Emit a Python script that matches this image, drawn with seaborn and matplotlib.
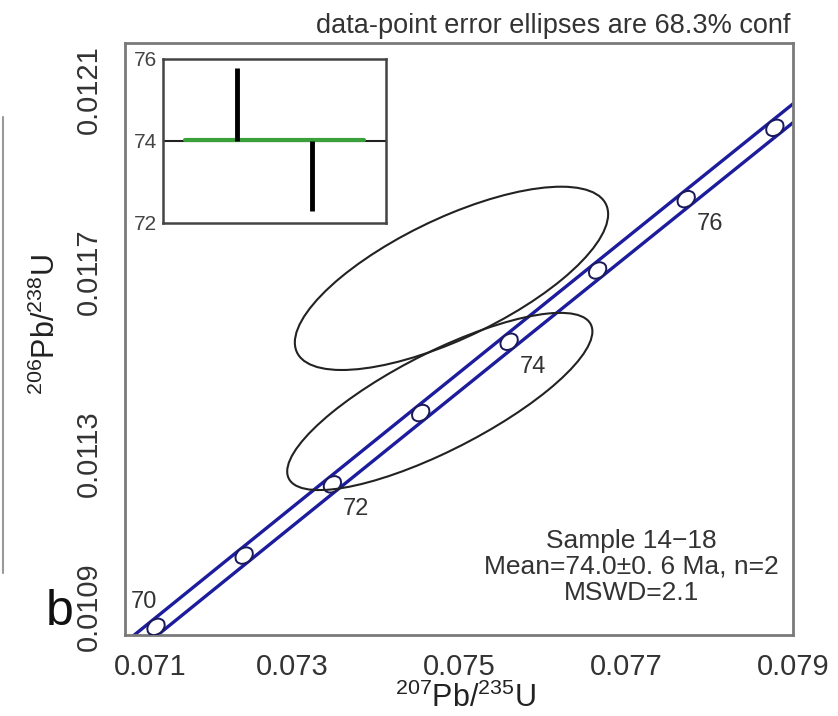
import numpy as np
import matplotlib
matplotlib.use('Agg')
import matplotlib.pyplot as plt
import seaborn as sns
from matplotlib.patches import Ellipse, Circle
from matplotlib.transforms import Affine2D, ScaledTranslation
from matplotlib.lines import Line2D

# concordia points (Ma, 207Pb/235U, 206Pb/238U)
conc_age = [69.5, 70, 71, 72, 73, 74, 75, 76, 77, 77.5]
conc_x = [0.0708439, 0.0713714, 0.0724270, 0.0734837, 0.0745415,
          0.0756003, 0.0766601, 0.0777210, 0.0787829, 0.0793142]
conc_y = [0.0108393, 0.0109179, 0.0110748, 0.0112316, 0.0113885,
          0.0115454, 0.0117023, 0.0118593, 0.0120163, 0.0120948]
band_dx = 0.00014           # half width of decay-constant band in 207/235
marker_ages = [70, 71, 72, 73, 74, 75, 76, 77]
label_ages = [70, 72, 74, 76]

# data-point error ellipses (1 sigma, rho)
ell_x = [0.07491, 0.07477]
ell_y = [0.011685, 0.011414]
ell_sx = [0.001237, 0.001205]
ell_sy = [0.000133, 0.0001286]
ell_rho = [0.70, 0.79]

# weighted-mean inset
bar_pos = [1, 2]
bar_lo = [74.0, 72.29]
bar_hi = [75.78, 74.0]
mean_age = 74.0

x_ticks = [0.071, 0.073, 0.075, 0.077, 0.079]
y_ticks = [0.0109, 0.0113, 0.0117, 0.0121]

sns.set_theme(style='white')
plt.rcParams['font.family'] = ['Liberation Sans', 'DejaVu Sans']
plt.rcParams['mathtext.fontset'] = 'custom'
plt.rcParams['mathtext.rm'] = 'Liberation Sans'
plt.rcParams['mathtext.it'] = 'Liberation Sans:italic'

fig = plt.figure(figsize=(8.38, 7.16), dpi=100)
ax = fig.add_axes([125/838, 1-635/716, 668/838, 592/716])

blue = '#1c1c9c'
conc = dict(zip(conc_age, zip(conc_x, conc_y)))
xs = np.array(conc_x)
ys = np.array(conc_y)
sns.lineplot(x=xs - band_dx, y=ys, sort=False, estimator=None, color=blue,
             lw=2.4, ax=ax, zorder=2)
sns.lineplot(x=xs + band_dx, y=ys, sort=False, estimator=None, color=blue,
             lw=2.4, ax=ax, zorder=2)

for a in marker_ages:
    cx, cy = conc[a]
    tr = fig.dpi_scale_trans + ScaledTranslation(cx, cy, ax.transData)
    ax.add_patch(Ellipse((0, 0), 0.19, 0.145, angle=39, transform=tr,
                         fc='white', ec='#1a1a5a', lw=1.4, zorder=3))

for a in label_ages:
    off = (-12, 25) if a == 70 else (24, -25)
    ax.annotate(str(a), conc[a], xytext=off, textcoords='offset pixels',
                ha='center', va='center', fontsize=17, color='#333333')

k = np.sqrt(2.30)
for cx, cy, sx, sy, r in zip(ell_x, ell_y, ell_sx, ell_sy, ell_rho):
    m = Affine2D(np.array([[k*sx, 0, cx],
                           [k*r*sy, k*sy*np.sqrt(1-r**2), cy],
                           [0, 0, 1]]))
    ax.add_patch(Circle((0, 0), 1, transform=m + ax.transData, fill=False,
                        ec='#222222', lw=1.5, zorder=4))

ax.set_xlim(0.071, 0.079)
ax.set_ylim(0.0109, 0.012203)
ax.set_xticks(x_ticks)
ax.set_xticklabels([f'{v:.3f}' for v in x_ticks])
ax.set_yticks(y_ticks)
ax.set_yticklabels([f'{v:.4f}' for v in y_ticks], rotation=90, va='center')
ax.tick_params(direction='in', length=4, width=1.2, colors='#777777',
               labelcolor='#333333', labelsize=21)
ax.tick_params(axis='x', pad=13)
ax.tick_params(axis='y', pad=16)
for s in ax.spines.values():
    s.set_color('#7a7a7a')
    s.set_linewidth(2)

# nudge the corner labels away from each other
xl = ax.get_xticklabels()[0]
xl.set_transform(xl.get_transform() + ScaledTranslation(0.25, 0, fig.dpi_scale_trans))
yl = ax.get_yticklabels()[0]
yl.set_transform(yl.get_transform() + ScaledTranslation(0, 0.28, fig.dpi_scale_trans))

ax.set_xlabel(r'$^{207}$Pb/$^{235}$U', fontsize=22, color='#222222')
ax.xaxis.set_label_coords(0.51, -0.08)
ax.set_ylabel(r'$^{206}$Pb/$^{238}$U', fontsize=22, color='#222222')
ax.yaxis.set_label_coords(-0.095, 0.524)

ax.text(0.758, 0.115, 'Sample 14\u221218\nMean=74.0\u00b10. 6 Ma, n=2\nMSWD=2.1',
        transform=ax.transAxes, ha='center', va='center', fontsize=19,
        color='#333333', linespacing=1.1)

fig.text(790/838, 1-26/716, 'data-point error ellipses are 68.3% conf',
         ha='right', va='center', fontsize=19.5, color='#333333')
fig.text(60/838, 1-612/716, 'b', ha='center', va='center', fontsize=36,
         color='#111111')
fig.add_artist(Line2D([3/838, 3/838], [1-117/716, 1-573/716],
                      color='#999999', lw=1.5))

# inset: weighted mean ages
ins = fig.add_axes([163/838, 1-223/716, 223/838, 164/716])
ins.axhline(mean_age, color='#222222', lw=1.5, zorder=1)
sns.lineplot(x=[0.3, 2.7], y=[mean_age + 0.03]*2, color='#3aa03a', lw=3,
             ax=ins, zorder=2)
ins.vlines(bar_pos, bar_lo, bar_hi, color='black', lw=3.5, zorder=3)
ins.set_xlim(0, 3)
ins.set_ylim(72, 76)
ins.set_xticks([])
ins.set_yticks([72, 74, 76])
ins.tick_params(axis='y', direction='out', length=3, width=1, colors='#444444',
                labelcolor='#444444', labelsize=15, pad=1)
for s in ins.spines.values():
    s.set_color('#444444')
    s.set_linewidth(1.8)

fig.savefig('out.png', dpi=100)
